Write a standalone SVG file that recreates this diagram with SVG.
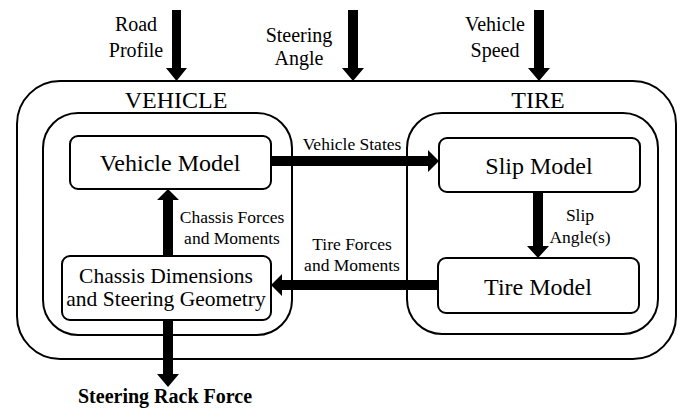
<svg xmlns="http://www.w3.org/2000/svg" width="682" height="410" viewBox="0 0 682 410">
<style>
.box{fill:none;stroke:#000;stroke-width:2}
.node{fill:#fff;stroke:#000;stroke-width:2}
.arr{fill:#000;stroke:none}
text{font-family:"Liberation Serif","Times New Roman",serif;fill:#000;text-anchor:middle}
.big{font-size:24px}
.mid{font-size:21.5px}
.top{font-size:20px}
.lbl{font-size:17.5px}
.bold{font-size:20px;font-weight:bold}
</style>
<rect width="682" height="410" fill="#fff"/>
<g id="system">
<rect class="box" x="17" y="81" width="659" height="278" rx="43" ry="43"/>
</g>
<g id="vehicle">
<rect class="box" x="43" y="113" width="249" height="222" rx="35" ry="35"/>
<text class="big" x="176" y="108">VEHICLE</text>
</g>
<g id="tire">
<rect class="box" x="407" y="113" width="251" height="221" rx="35" ry="35"/>
<text class="big" x="538" y="108">TIRE</text>
</g>
<g id="vehicle-model">
<rect class="node" x="70" y="136" width="201" height="53" rx="8" ry="8"/>
<text class="big" x="170" y="171">Vehicle Model</text>
</g>
<g id="chassis">
<rect class="node" x="62" y="256" width="209" height="64" rx="8" ry="8"/>
<text class="mid" x="166" y="283">Chassis Dimensions</text>
<text class="mid" x="166" y="306">and Steering Geometry</text>
</g>
<g id="slip-model">
<rect class="node" x="439" y="138" width="201" height="54" rx="8" ry="8"/>
<text class="big" x="539" y="174">Slip Model</text>
</g>
<g id="tire-model">
<rect class="node" x="438" y="258" width="201" height="55" rx="8" ry="8"/>
<text class="big" x="538" y="295">Tire Model</text>
</g>
<g id="connectors">
<polygon class="arr" points="172,10 181,10 181,68 187,68 176.5,81 166,68 172,68"/>
<polygon class="arr" points="348,10 358,10 358,68 364,68 353,81 342,68 348,68"/>
<polygon class="arr" points="534,10 544,10 544,68 550,68 539,81 528,68 534,68"/>
<polygon class="arr" points="271,156 428,156 428,150 439,161 428,172 428,166 271,166"/>
<polygon class="arr" points="438,280 282,280 282,274 271,285 282,296 282,290 438,290"/>
<polygon class="arr" points="533,192 543,192 543,246 549,246 538,258 527,246 533,246"/>
<polygon class="arr" points="163,256 173,256 173,200 179,200 168,189 157,200 163,200"/>
<polygon class="arr" points="163,320 173,320 173,374 179,374 168,387 157,374 163,374"/>
<text class="top" x="136" y="31">Road</text>
<text class="top" x="136" y="57">Profile</text>
<text class="top" x="299" y="42">Steering</text>
<text class="top" x="299" y="65">Angle</text>
<text class="top" x="495" y="31">Vehicle</text>
<text class="top" x="495" y="57">Speed</text>
<text class="lbl" x="352" y="150">Vehicle States</text>
<text class="lbl" x="352" y="250">Tire Forces</text>
<text class="lbl" x="352" y="271">and Moments</text>
<text class="lbl" x="232" y="223">Chassis Forces</text>
<text class="lbl" x="232" y="244">and Moments</text>
<text class="lbl" x="580" y="221">Slip</text>
<text class="lbl" x="580" y="243">Angle(s)</text>
<text class="bold" x="165" y="403">Steering Rack Force</text>
</g>
</svg>
